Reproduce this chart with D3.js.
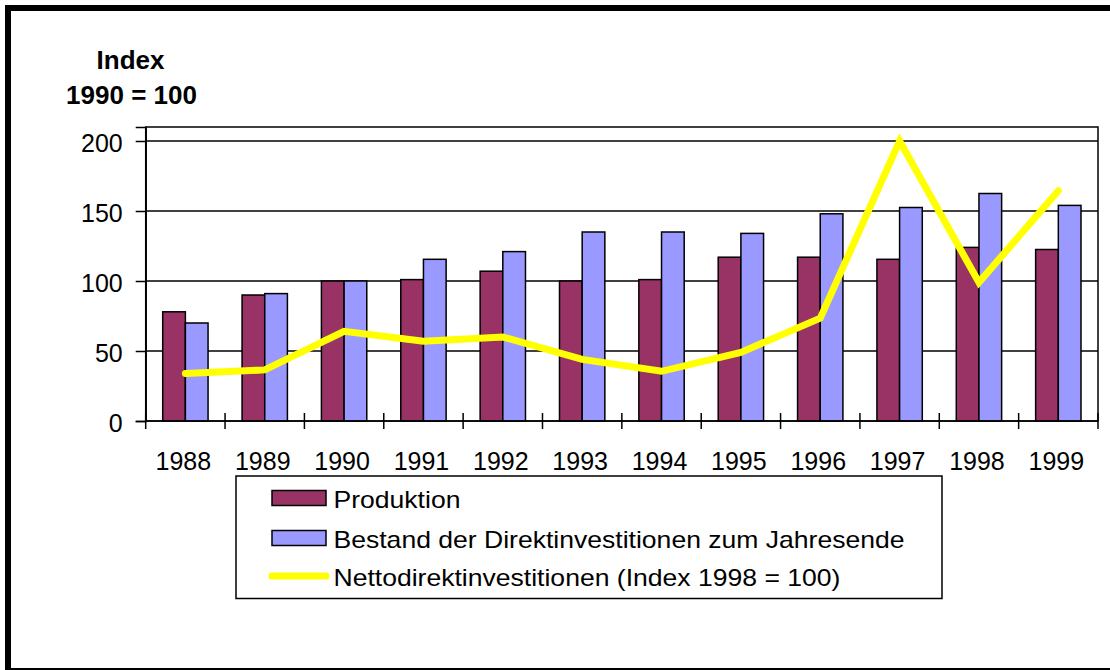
<!DOCTYPE html>
<html>
<head>
<meta charset="utf-8">
<script src="https://cdn.jsdelivr.net/npm/d3@7"></script>
<style>
  html, body { margin: 0; padding: 0; background: #fff; overflow: hidden; }
  svg { display: block; font-family: "Liberation Sans", Arial, sans-serif; }
</style>
</head>
<body>
<svg id="chart" width="1110" height="670"></svg>
<script>
// Jahre und Reihen
const years = ["1988","1989","1990","1991","1992","1993","1994","1995","1996","1997","1998","1999"];
const produktion = [78, 90, 100, 101, 107, 100, 101, 117, 117, 115.5, 124, 122.5];
const bestand = [70, 91, 100, 115.5, 121, 135, 135, 134, 148, 152.5, 162.5, 154];
const netto = [34, 36.5, 64, 57, 60, 44, 35.5, 49, 73.5, 200, 99, 164.5];
const yTicks = [0, 50, 100, 150, 200];
const seriesNames = ["Produktion", "Bestand der Direktinvestitionen zum Jahresende", "Nettodirektinvestitionen (Index 1998 = 100)"];
const colors = { prod: "#993366", best: "#9999FF", netto: "#FFFF00" };

const svg = d3.select("#chart");

// Äußerer Rahmen
svg.append("rect")
  .attr("x", 8).attr("y", 8)
  .attr("width", 1300).attr("height", 663)
  .attr("fill", "none").attr("stroke", "#000").attr("stroke-width", 6);

const plot = { left: 145.7, right: 1098, top: 127, bottom: 421 };

const x = d3.scaleBand().domain(years).range([plot.left, plot.right]).paddingInner(0).paddingOuter(0);
const inner = d3.scaleBand().domain(["prod", "best"]).range([0, x.bandwidth()]).paddingInner(0).paddingOuter(0.75);
const y = d3.scaleLinear().domain([0, 210]).range([plot.bottom, plot.top]);

// Gitternetzlinien
svg.append("g").selectAll("line").data(yTicks.filter(d => d > 0)).join("line")
  .attr("x1", plot.left).attr("x2", plot.right)
  .attr("y1", d => y(d)).attr("y2", d => y(d))
  .attr("stroke", "#000").attr("stroke-width", 1.5);

// Zeichnungsfläche
svg.append("rect")
  .attr("x", plot.left).attr("y", plot.top)
  .attr("width", plot.right - plot.left).attr("height", plot.bottom - plot.top)
  .attr("fill", "none").attr("stroke", "#000").attr("stroke-width", 1.5);

// Säulen
const rows = years.map((yr, i) => ({ yr, prod: produktion[i], best: bestand[i] }));
const groups = svg.append("g").selectAll("g").data(rows).join("g")
  .attr("transform", d => `translate(${x(d.yr)},0)`);
["prod", "best"].forEach(key => {
  groups.append("rect")
    .attr("x", inner(key))
    .attr("width", inner.bandwidth())
    .attr("y", d => y(d[key]))
    .attr("height", d => y(0) - y(d[key]))
    .attr("fill", colors[key])
    .attr("stroke", "#000").attr("stroke-width", 1.5);
});

// Achsen
const yAxis = d3.axisLeft(y).tickValues(yTicks).tickSize(10).tickPadding(13).tickFormat(d3.format("d"));
const gy = svg.append("g").attr("transform", `translate(${plot.left},0)`).call(yAxis);
gy.select(".domain").attr("stroke", "#000").attr("stroke-width", 1.5);
gy.selectAll(".tick line").attr("stroke", "#000").attr("stroke-width", 1.5);
gy.selectAll(".tick text").attr("font-size", 25).attr("fill", "#000").attr("dy", "0.43em")
  .attr("font-family", "'Liberation Sans', Arial, sans-serif");

// x-Achse mit Kreuz-Teilstrichen an den Kategoriegrenzen
svg.append("line")
  .attr("x1", plot.left).attr("x2", plot.right)
  .attr("y1", y(0)).attr("y2", y(0))
  .attr("stroke", "#000").attr("stroke-width", 1.5);
const boundaries = years.map(d => x(d)).concat([x(years[years.length - 1]) + x.bandwidth()]);
svg.append("g").selectAll("line").data(boundaries).join("line")
  .attr("x1", d => d).attr("x2", d => d)
  .attr("y1", y(0) - 8).attr("y2", y(0) + 8)
  .attr("stroke", "#000").attr("stroke-width", 1.5);
svg.append("g").selectAll("text").data(years).join("text")
  .attr("x", d => x(d) + x.bandwidth() / 2 - 2)
  .attr("y", 469.5)
  .attr("text-anchor", "middle")
  .attr("font-size", 25)
  .attr("fill", "#000")
  .text(d => d);

// Linie Nettodirektinvestitionen
const line = d3.line()
  .x((d, i) => x(years[i]) + x.bandwidth() / 2)
  .y(d => y(d));
svg.append("path")
  .datum(netto)
  .attr("d", line)
  .attr("fill", "none")
  .attr("stroke", colors.netto)
  .attr("stroke-width", 7)
  .attr("stroke-linejoin", "miter")
  .attr("stroke-miterlimit", 10)
  .attr("stroke-linecap", "round");

// Achsentitel
const title = svg.append("g").attr("font-weight", "bold").attr("font-size", 26).attr("text-anchor", "middle");
title.append("text").attr("x", 130.5).attr("y", 69).text("Index");
title.append("text").attr("x", 131.5).attr("y", 104).text("1990 = 100");

// Legende
const legend = svg.append("g");
legend.append("rect")
  .attr("x", 236).attr("y", 476)
  .attr("width", 706).attr("height", 122.5)
  .attr("fill", "#fff").attr("stroke", "#000").attr("stroke-width", 1.5);
const legRows = [
  { name: seriesNames[0], type: "bar", color: colors.prod, yc: 498 },
  { name: seriesNames[1], type: "bar", color: colors.best, yc: 538 },
  { name: seriesNames[2], type: "line", color: colors.netto, yc: 576 }
];
legRows.forEach(r => {
  if (r.type === "bar") {
    legend.append("rect")
      .attr("x", 272).attr("y", r.yc - 7.5)
      .attr("width", 54).attr("height", 15)
      .attr("fill", r.color).attr("stroke", "#000").attr("stroke-width", 1.5);
  } else {
    legend.append("line")
      .attr("x1", 272).attr("x2", 326)
      .attr("y1", r.yc).attr("y2", r.yc)
      .attr("stroke", r.color).attr("stroke-width", 7).attr("stroke-linecap", "round");
  }
  legend.append("text")
    .attr("transform", `translate(333.5,${r.yc + 10}) scale(1.155,1)`)
    .attr("font-size", 23)
    .attr("fill", "#000")
    .text(r.name);
});
</script>
</body>
</html>
